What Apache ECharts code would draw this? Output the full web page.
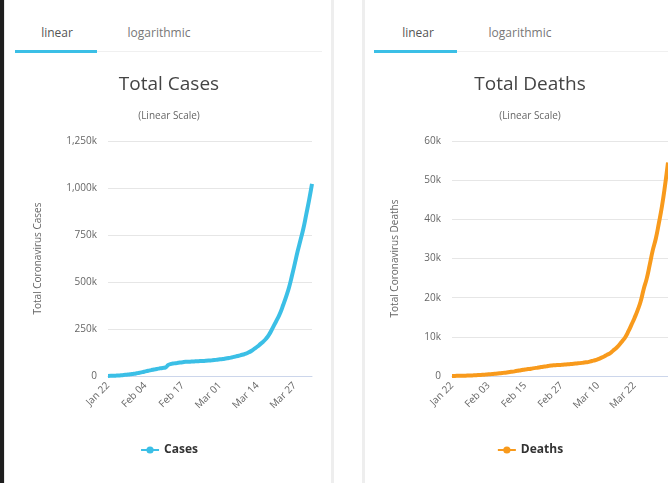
<!DOCTYPE html>
<html>
<head>
<meta charset="utf-8">
<script src="https://cdn.jsdelivr.net/npm/echarts@6/dist/echarts.min.js"></script>
<style>
  html, body { margin:0; padding:0; width:668px; height:483px; overflow:hidden; background:#fff; font-family:"Open Sans", sans-serif; }
  .abs { position:absolute; }
  .tab { position:absolute; top:24px; font-size:12px; color:#555; transform:translateX(-50%); white-space:nowrap; }
  .tab.off { color:#777; }
</style>
</head>
<body>
<div class="abs" style="left:0;top:0;width:4px;height:483px;background:#1e1e1e;"></div>
<div class="abs" style="left:4px;top:0;width:1px;height:483px;background:#e8e8e8;"></div>
<div class="abs" style="left:331px;top:0;width:3px;height:483px;background:#eeeeee;"></div>
<div class="abs" style="left:362px;top:0;width:3px;height:483px;background:#eeeeee;"></div>

<div class="tab" style="left:57px;">linear</div>
<div class="tab off" style="left:159px;">logarithmic</div>
<div class="abs" style="left:15px;top:50px;width:82px;height:3px;background:#3bbfe6;"></div>
<div class="abs" style="left:97px;top:51px;width:225px;height:1px;background:#f0f0f0;"></div>

<div class="tab" style="left:418px;">linear</div>
<div class="tab off" style="left:520px;">logarithmic</div>
<div class="abs" style="left:374px;top:50px;width:83px;height:3px;background:#3bbfe6;"></div>
<div class="abs" style="left:457px;top:51px;width:211px;height:1px;background:#f0f0f0;"></div>

<div id="c1" class="abs" style="left:6px;top:0;width:326px;height:483px;"></div>
<div id="c2" class="abs" style="left:365px;top:0;width:330px;height:483px;"></div>

<script>
const dates = ["Jan 22","Jan 23","Jan 24","Jan 25","Jan 26","Jan 27","Jan 28","Jan 29","Jan 30","Jan 31",
"Feb 01","Feb 02","Feb 03","Feb 04","Feb 05","Feb 06","Feb 07","Feb 08","Feb 09","Feb 10",
"Feb 11","Feb 12","Feb 13","Feb 14","Feb 15","Feb 16","Feb 17","Feb 18","Feb 19","Feb 20",
"Feb 21","Feb 22","Feb 23","Feb 24","Feb 25","Feb 26","Feb 27","Feb 28","Feb 29","Mar 01",
"Mar 02","Mar 03","Mar 04","Mar 05","Mar 06","Mar 07","Mar 08","Mar 09","Mar 10","Mar 11",
"Mar 12","Mar 13","Mar 14","Mar 15","Mar 16","Mar 17","Mar 18","Mar 19","Mar 20","Mar 21",
"Mar 22","Mar 23","Mar 24","Mar 25","Mar 26","Mar 27","Mar 28","Mar 29","Mar 30","Mar 31",
"Apr 01","Apr 02"];

const cases = [580,845,1317,2015,2800,4581,6058,7813,9823,11950,
14553,17391,20630,24545,28266,31439,34876,37552,40553,43099,
45134,59287,64438,67100,69197,71329,73332,75184,75700,76677,
77673,78651,79205,80087,80828,81820,83112,84615,86604,88585,
90443,93016,95314,98425,102050,106099,109991,114381,118948,126214,
134576,145483,156653,169593,182490,198238,218822,246088,275944,305036,
337459,378830,422574,471035,531865,596366,663127,723390,784794,859798,
936851,1022000];

const deaths = [17,25,41,56,80,106,132,170,213,259,
304,362,426,492,565,638,724,813,910,1018,
1115,1261,1383,1526,1669,1775,1873,2009,2126,2247,
2360,2460,2618,2699,2763,2800,2858,2923,2977,3050,
3117,3202,3285,3387,3494,3599,3827,4025,4296,4628,
4981,5428,5833,6520,7162,7979,8951,9964,11429,13107,
14831,16757,19021,22159,24858,28431,32139,35104,39033,43289,
48500,54500];

const casesTicks = [0, 250000, 500000, 750000, 1000000, 1250000];
const deathsTicks = [0, 10000, 20000, 30000, 40000, 50000, 60000];

function kfmt(v) {
  if (v === 0) return '0';
  return (v / 1000).toLocaleString('en-US') + 'k';
}

function makeOption(cfg) {
  return {
    animation: false,
    textStyle: { fontFamily: '"Open Sans", sans-serif' },
    title: [
      { text: cfg.title, left: 'center', top: 75, padding: 0,
        textStyle: { fontSize: 19, fontWeight: 'normal', color: '#444', fontFamily: '"Open Sans", sans-serif' } },
      { text: '(Linear Scale)', left: 'center', top: 111, padding: 0,
        textStyle: { fontSize: 10, fontWeight: 'normal', color: '#666', fontFamily: '"Open Sans", sans-serif' } }
    ],
    legend: {
      data: [cfg.name], left: 'center', top: 439, itemWidth: 18, itemHeight: 9, itemGap: 8,
      textStyle: { fontSize: 12, fontWeight: 'bold', color: '#333' }
    },
    grid: { left: cfg.gridLeft, top: 141, width: cfg.gridWidth, height: 235 },
    xAxis: {
      type: 'category', data: dates, boundaryGap: false,
      axisLine: { lineStyle: { color: '#ccd6eb' } },
      axisTick: { show: false },
      axisLabel: { interval: cfg.labelInterval, rotate: 45, fontSize: 10, color: '#666', margin: 8 }
    },
    yAxis: {
      type: 'value', min: cfg.ticks[0], max: cfg.ticks[cfg.ticks.length - 1], interval: cfg.ticks[1] - cfg.ticks[0],
      name: cfg.yName, nameLocation: 'middle', nameGap: cfg.nameGap,
      nameTextStyle: { fontSize: 10, color: '#666' },
      axisLine: { show: false }, axisTick: { show: false },
      axisLabel: { fontSize: 10, color: '#666', margin: 11, formatter: kfmt },
      splitLine: { lineStyle: { color: '#e6e6e6' } }
    },
    series: [{
      name: cfg.name, type: 'line', data: cfg.data, smooth: true,
      symbol: 'circle', symbolSize: 9, showSymbol: false,
      lineStyle: { width: 4, color: cfg.color }, itemStyle: { color: cfg.color }
    }]
  };
}

const c1 = echarts.init(document.getElementById('c1'));
c1.setOption(makeOption({
  title: 'Total Cases', name: 'Cases', data: cases, color: '#3bbfe6',
  gridLeft: 102, gridWidth: 204, labelInterval: 12, ticks: casesTicks,
  yName: 'Total Coronavirus Cases', nameGap: 65
}));

const c2 = echarts.init(document.getElementById('c2'));
c2.setOption(makeOption({
  title: 'Total Deaths', name: 'Deaths', data: deaths, color: '#f89a1c',
  gridLeft: 87, gridWidth: 216, labelInterval: 11, ticks: deathsTicks,
  yName: 'Total Coronavirus Deaths', nameGap: 52
}));
</script>
</body>
</html>
